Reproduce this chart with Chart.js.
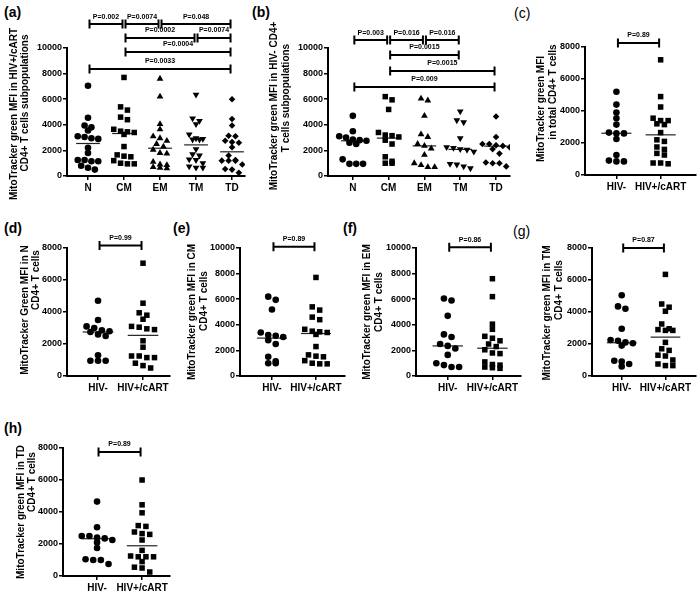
<!DOCTYPE html>
<html>
<head>
<meta charset="utf-8">
<script src="https://cdn.jsdelivr.net/npm/chart.js@4.4.0/dist/chart.umd.min.js"></script>
<style>
body { margin: 0; background: #fff; }
#fig { position: relative; width: 700px; height: 592px; overflow: hidden; }
.tag { position: absolute; font: bold 14px "Liberation Sans", Arial, sans-serif; line-height: 16px; }
</style>
</head>
<body>
<div id="fig">
  <div class="tag" style="left:4px;top:4px">(a)</div>
  <div class="tag" style="left:252px;top:4px">(b)</div>
  <div class="tag" style="left:514px;top:5px;font-weight:normal">(c)</div>
  <div class="tag" style="left:4px;top:220px">(d)</div>
  <div class="tag" style="left:173px;top:220px">(e)</div>
  <div class="tag" style="left:343px;top:220px">(f)</div>
  <div class="tag" style="left:513px;top:223px;font-weight:normal">(g)</div>
  <div class="tag" style="left:4px;top:420px">(h)</div>
</div>
<script>
// categories
const subsets = ['N', 'CM', 'EM', 'TM', 'TD'];
const groups = ['HIV-', 'HIV+/cART'];

// MitoTracker green MFI, HIV- donors
const nNeg  = [4700, 3500, 3100, 3000, 2850, 2800, 2750, 2600, 2500, 1300, 950, 950, 950];
const cmNeg = [6200, 5950, 5200, 3400, 3200, 3150, 3050, 2800, 2500, 1500, 1150, 1000, 1000];
const emNeg = [6050, 5900, 4700, 3250, 3050, 2500, 2350, 2150, 1650, 1000, 850, 700, 700];
const tmNeg = [5050, 4350, 4200, 2950, 2250, 2200, 2100, 2050, 1900, 950, 900, 750, 600];
const tdNeg = [4650, 3050, 2500, 2500, 2400, 2350, 2250, 2100, 1750, 1050, 1000, 1000, 750];
const totNeg = [5200, 4400, 3900, 3550, 3150, 2650, 2600, 2600, 2250, 1250, 900, 850, 850];

// MitoTracker green MFI, HIV+/cART
const nPos  = [7050, 4550, 3950, 3800, 3550, 3100, 3050, 2950, 2900, 2200, 1800, 1250, 1250, 1150, 1150, 800, 650, 500];
const cmPos = [7700, 5400, 5150, 4600, 4400, 3650, 3500, 3450, 3400, 3250, 2300, 1650, 1550, 1500, 1200, 1000, 950, 950];
const emPos = [7600, 6200, 4050, 3650, 3100, 2950, 2750, 2500, 2300, 2050, 1800, 1750, 1100, 900, 850, 700, 650, 600];
const tmPos = [6350, 4500, 4300, 4050, 3250, 2950, 2900, 2850, 2850, 2100, 1700, 1600, 1300, 1250, 1000, 750, 650, 650];
const tdPos = [6000, 4450, 3950, 3150, 3100, 2750, 2650, 2600, 2250, 1600, 1250, 1200, 1200, 1200, 900, 550, 500, 250];
const totPos = [7200, 4900, 4250, 3550, 3400, 3400, 3200, 3150, 2650, 2200, 2100, 1750, 1600, 1350, 1250, 750, 700, 750];

// medians (N, CM, EM, TM, TD)
const medNeg = [2750, 2960, 2350, 2080, 2330];
const medPos = [2540, 3320, 2170, 2430, 1890];
const medTot = [2610, 2510];

// brackets: [from, to, label, level]
const bracketsA = [[1, 2, 'P=0.002', 11870], [2, 3, 'P=0.0074', 11870], [3, 5, 'P=0.048', 11870],
                   [2, 4, 'P=0.0002', 10780], [4, 5, 'P=0.0074', 10780],
                   [2, 5, 'P=0.0004', 9690], [1, 5, 'P=0.0033', 8360]];
const bracketsB = [[1, 2, 'P=0.003', 10620], [2, 3, 'P=0.016', 10620], [3, 4, 'P=0.016', 10620],
                   [2, 4, 'P=0.0015', 9450], [2, 5, 'P=0.0015', 8200], [1, 5, 'P=0.009', 6950]];

Chart.defaults.font.family = '"Liberation Sans", Arial, sans-serif';
Chart.defaults.color = '#000';

const shapes5 = [
    { style: 'circle', r: 3.3 },
    { style: 'rect', r: 3.9 },
    { style: 'triangle', r: 3.9 },
    { style: 'triangle', r: 3.9, rot: 180 },
    { style: 'rectRot', r: 3.3 }
];
const shapes2 = [shapes5[0], shapes5[1]];

// spread points of similar value sideways (column scatter)
function swarm(vals, center, bin, step) {
    const rows = [];
    vals.slice().sort((a, b) => b - a).forEach(v => {
        const row = rows[rows.length - 1];
        if (row && row[0] - v < bin) row.push(v); else rows.push([v]);
    });
    const pts = [];
    rows.forEach(row => row.forEach((v, k) => {
        pts.push({ x: center + (k - (row.length - 1) / 2) * step, y: v });
    }));
    return pts;
}

const bracketPlugin = {
    id: 'brackets',
    afterDatasetsDraw(chart, args, opts) {
        const { ctx } = chart;
        const x = chart.scales.x, y = chart.scales.y;
        ctx.save();
        ctx.strokeStyle = '#000';
        ctx.lineWidth = 2;
        ctx.fillStyle = '#000';
        ctx.font = 'bold 7px "Liberation Sans", Arial, sans-serif';
        ctx.textAlign = 'center';
        ctx.textBaseline = 'bottom';
        (opts.list || []).forEach(([a, b, label, level]) => {
            const x1 = x.getPixelForValue(a) + 1.5;
            const x2 = x.getPixelForValue(b) - 1.5;
            const yy = y.getPixelForValue(level);
            ctx.beginPath();
            ctx.moveTo(x1, yy - 4.5); ctx.lineTo(x1, yy + 4.5);
            ctx.moveTo(x2, yy - 4.5); ctx.lineTo(x2, yy + 4.5);
            ctx.moveTo(x1, yy); ctx.lineTo(x2, yy);
            ctx.stroke();
            ctx.fillText(label, (x1 + x2) / 2, yy - 4);
        });
        ctx.restore();
    }
};

// vertical axis title, two lines placed separately like the original
const yTitlePlugin = {
    id: 'ytitle',
    afterDraw(chart, args, opts) {
        const { ctx } = chart;
        ctx.save();
        ctx.font = 'bold 10px "Liberation Sans", Arial, sans-serif';
        ctx.fillStyle = '#000';
        ctx.textAlign = 'center';
        ctx.textBaseline = 'middle';
        (opts.lines || []).forEach(([text, px, py]) => {
            ctx.save();
            ctx.translate(px, py);
            ctx.rotate(-Math.PI / 2);
            ctx.fillText(text, 0, 0);
            ctx.restore();
        });
        ctx.restore();
    }
};

const two = (neg, pos, med) => ({ data: [neg, pos], med: med, cats: groups, shapes: shapes2, step: 0.17, half: 0.34 });
const five = (data, med) => ({ data: data, med: med, cats: subsets, shapes: shapes5, step: 0.19, half: 0.33 });

const panels = [
    Object.assign(five([nPos, cmPos, emPos, tmPos, tdPos], medPos), {
        box: [0, 0, 252, 200], area: [67, 48, 245, 176], xr: [0.417, 5.36], ymax: 10000,
        brackets: bracketsA, title: ['MitoTracker green MFI in HIV+/cART', 'CD4+ T cells subpopulations'],
        tpos: [[14, 114], [25, 103]] }),
    Object.assign(five([nNeg, cmNeg, emNeg, tmNeg, tdNeg], medNeg), {
        box: [252, 0, 262, 200], area: [328, 48, 511, 176], xr: [0.306, 5.39], ymax: 10000,
        brackets: bracketsB, title: ['MitoTracker green MFI in HIV- CD4+', 'T cells subpopulations'],
        tpos: [[274, 106], [286, 98]] }),
    Object.assign(two(totNeg, totPos, medTot), {
        box: [514, 0, 186, 200], area: [585, 47, 698, 175], xr: [0.289, 2.8], ymax: 8000,
        brackets: [[1, 2, 'P=0.89', 8250]], title: ['MitoTracker green MFI', 'in total CD4+ T cells'],
        tpos: [[541, 109], [553, 92]] }),
    Object.assign(two(nNeg, nPos, [medNeg[0], medPos[0]]), {
        box: [0, 220, 175, 180], area: [67, 248, 170, 376], xr: [0.31, 2.6], ymax: 8000,
        brackets: [[1, 2, 'P=0.99', 8150]], title: ['MitoTracker Green MFI in N', 'CD4+ T cells'],
        tpos: [[25, 310], [36, 280]] }),
    Object.assign(two(cmNeg, cmPos, [medNeg[1], medPos[1]]), {
        box: [175, 220, 175, 180], area: [240, 248, 345, 376], xr: [0.273, 2.66], ymax: 10000,
        brackets: [[1, 2, 'P=0.89', 10100]], title: ['MitoTracker green MFI in CM', 'CD4+ T cells'],
        tpos: [[192, 312], [204, 301]] }),
    Object.assign(two(emNeg, emPos, [medNeg[2], medPos[2]]), {
        box: [350, 220, 175, 180], area: [416, 248, 522, 376], xr: [0.29, 2.64], ymax: 10000,
        brackets: [[1, 2, 'P=0.86', 10050]], title: ['MitoTracker green MFI in EM', 'CD4+ T cells'],
        tpos: [[367, 312], [379, 302]] }),
    Object.assign(two(tmNeg, tmPos, [medNeg[3], medPos[3]]), {
        box: [525, 220, 175, 180], area: [592, 248, 697, 376], xr: [0.32, 2.7], ymax: 8000,
        brackets: [[1, 2, 'P=0.87', 8000]], title: ['MitoTracker green MFI in TM', 'CD4+ T cells'],
        tpos: [[547, 313], [559, 290]] }),
    Object.assign(two(tdNeg, tdPos, [medNeg[4], medPos[4]]), {
        box: [0, 420, 200, 172], area: [63, 448, 170, 576], xr: [0.244, 2.62], ymax: 8000,
        brackets: [[1, 2, 'P=0.89', 7750]], title: ['MitoTracker green MFI in TD', 'CD4+ T cells'],
        tpos: [[21, 512], [32, 482]] })
];

const fig = document.getElementById('fig');

function makePanel(p) {
    const [bx, by, bw, bh] = p.box;
    const cv = document.createElement('canvas');
    cv.width = bw; cv.height = bh;
    cv.style.cssText = `position:absolute;left:${bx}px;top:${by}px;width:${bw}px;height:${bh}px`;
    fig.appendChild(cv);

    const padL = 4;
    const left = p.area[0] - bx, top = p.area[1] - by, right = p.area[2] - bx, bottom = p.area[3] - by;

    const datasets = [];
    p.data.forEach((vals, i) => {
        const sh = p.shapes[i];
        datasets.push({
            type: 'scatter',
            data: swarm(vals, i + 1, p.ymax * 0.04, p.step),
            pointStyle: sh.style,
            pointRadius: sh.r,
            pointRotation: sh.rot || 0,
            backgroundColor: '#000',
            borderWidth: 0,
            pointBorderWidth: 0
        });
        datasets.push({
            type: 'line',
            data: [{ x: i + 1 - p.half, y: p.med[i] }, { x: i + 1 + p.half, y: p.med[i] }],
            borderColor: '#222',
            borderWidth: 1.2,
            pointRadius: 0
        });
    });

    new Chart(cv.getContext('2d'), {
        type: 'scatter',
        data: { datasets },
        plugins: [bracketPlugin, yTitlePlugin],
        options: {
            responsive: false,
            animation: false,
            layout: { padding: { left: padL, top: top, right: bw - right, bottom: 0 } },
            plugins: {
                legend: { display: false },
                tooltip: { enabled: false },
                brackets: { list: p.brackets },
                ytitle: { lines: p.title.map((t, k) => [t, p.tpos[k][0] - bx, p.tpos[k][1] - by]) }
            },
            scales: {
                x: {
                    type: 'linear',
                    min: p.xr[0],
                    max: p.xr[1],
                    afterBuildTicks: s => { s.ticks = p.cats.map((c, i) => ({ value: i + 1 })); },
                    afterFit: s => { s.height = bh - bottom; },
                    ticks: {
                        callback: v => p.cats[Math.round(v) - 1],
                        font: { size: 10, weight: 'bold' },
                        color: '#000',
                        padding: 2,
                        maxRotation: 0,
                        autoSkip: false
                    },
                    grid: { drawOnChartArea: false, tickLength: 4, color: '#000', lineWidth: 1.5 },
                    border: { color: '#000', width: 2 }
                },
                y: {
                    min: 0,
                    max: p.ymax,
                    afterFit: s => { s.width = left - padL; },
                    ticks: {
                        stepSize: 2000,
                        callback: v => String(v),
                        font: { size: 9, weight: 'bold' },
                        color: '#000',
                        padding: 1
                    },
                    grid: { drawOnChartArea: false, tickLength: 4, color: '#000', lineWidth: 1.5 },
                    border: { color: '#000', width: 2 }
                }
            }
        }
    });
}

panels.forEach(makePanel);
</script>
</body>
</html>
